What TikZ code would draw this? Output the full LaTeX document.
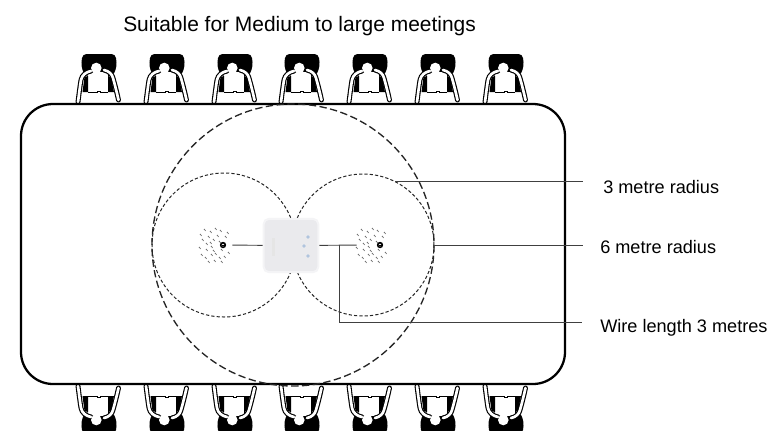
\documentclass[tikz,border=0pt]{standalone}
\usepackage{fontspec}
\setmainfont{Liberation Sans}
\usetikzlibrary{positioning}
\definecolor{hubgrey}{RGB}{234,234,237}
\definecolor{hubdot}{RGB}{176,196,222}
\tikzstyle{leader} = [line width=0.7pt, black!75]
\tikzstyle{caption} = [anchor=west, inner sep=0pt, font=\fontsize{13.6}{15}\selectfont]
\tikzstyle{micspot} = [minimum size=24pt, inner sep=0pt]
\tikzstyle{hub} = [rectangle, rounded corners=4pt, minimum width=41pt, minimum height=40pt, fill=hubgrey, draw=hubgrey!50, line width=1.5pt]
\tikzstyle{smallring} = [line width=0.75pt, dash pattern=on 2.4pt off 1.6pt, black!85]
\tikzstyle{sitterarm} = [line width=0.85pt, double=white, double distance=2pt, line cap=round]
\tikzset{
  sitter/.pic={
    \fill[black, rounded corners=3pt] (-15.5,-14) -- (17.5,-14) -- (19,-2) -- (15,8) -- (-13,8) -- (-17,-2) -- cycle;
    \fill[white] (-10,4) rectangle (10,10);
    \fill[black] (-10,8) -- (-13.5,9) -- (-15.5,24) -- (-10,24) -- cycle;
    \fill[black] (10,8) -- (13,9) -- (16,24) -- (10,24) -- cycle;
    \draw[line width=0.5pt] (-10,24) -- (-1,24) -- (-1,23) -- (2,23) -- (2,24) -- (10,24);
    \draw[sitterarm] (-7,3) .. controls (-12,4) and (-16,7) .. (-17,12) .. controls (-18,18) and (-19,26) .. (-20,34);
    \draw[sitterarm] (6,2) .. controls (11,3) and (14,6) .. (15,10) .. controls (17,17) and (19,25) .. (20.5,32);
    \fill[white] (-1.7,0) circle (5.3);
  },
  micdots/.pic={
    \foreach \sx/\sy in {-16/-11,-12/-16,-6/-14,-1/-17,4/-15,-14/-6,-8/-9,-3/-6,1/-10,9/-9,-17/2,-10/-2,-10/4,-5/1,-3/5,3/-4,-15/9,-11/12,-5/9,-1/8,3/12,8/11,-8/16,-2/15,5/16,11/-13,-6/-3,5/4,12/7} {
      \draw[line width=0.6pt, black!55] (\sx,\sy) -- ++(1.6,1.8);
    }
    \fill[black] (7,0) circle (3.2);
    \fill[white] (7,0) circle (1.5);
    \draw[line width=0.5pt] (5.5,0) -- (8.5,0);
  }
}

\begin{document}
\begin{tikzpicture}[x=0.75pt, y=-0.75pt]
\useasboundingbox (0,0) rectangle (769,430);

% people along both long sides
\foreach \seatx in {98,166,234,301,369,437,505} {
  \pic at (\seatx,68) {sitter};
  \pic[yscale=-1] at (\seatx,420) {sitter};
}

% table
\draw[line width=1.7pt, fill=white] (21,104) [rounded corners=24pt] rectangle (565,384);

% ranges
\draw[line width=1pt, dash pattern=on 5.5pt off 2.6pt, black!85] (293,245) circle (141);
\draw[smallring] (224,245) circle (72);
\draw[smallring] (363,245) circle (71);

% mics and hub
\node (micL) [micspot] at (216,245) {};
\node (micR) [micspot] at (373,245) {};
\pic at (micL.center) {micdots};
\pic at (micR.center) {micdots};
\node (hubbox) [hub] at (291,245.5) {};
\fill[hubdot] (308,237) circle (1.8) (304,246) circle (1.8) (308,256) circle (1.8);
\fill[black!10] (271.5,238) rectangle (274.5,256);

\draw [leader] (micL) -- (hubbox);
\draw [leader] (hubbox) -- (micR);

% labels
\node (title) [caption, font=\fontsize{15.7}{18}\selectfont] at (123,26) {Suitable for Medium to large meetings};
\node (lab3) [caption] at (603,187) {3 metre radius};
\node (lab6) [caption] at (600,247) {6 metre radius};
\node (labwire) [caption] at (600,328) {Wire length 3 metres};

\coordinate (edge3) at (395,181);
\coordinate (end3) at (583,181);
\coordinate (edge6) at (434,245);
\coordinate (end6) at (583,245);
\coordinate (wirejoin) at (339,245);
\coordinate (endwire) at (582,322);
\draw [leader] (edge3) -- (end3);
\draw [leader] (edge6) -- (end6);
\draw [leader] (wirejoin) |- (endwire);

\end{tikzpicture}
\end{document}
